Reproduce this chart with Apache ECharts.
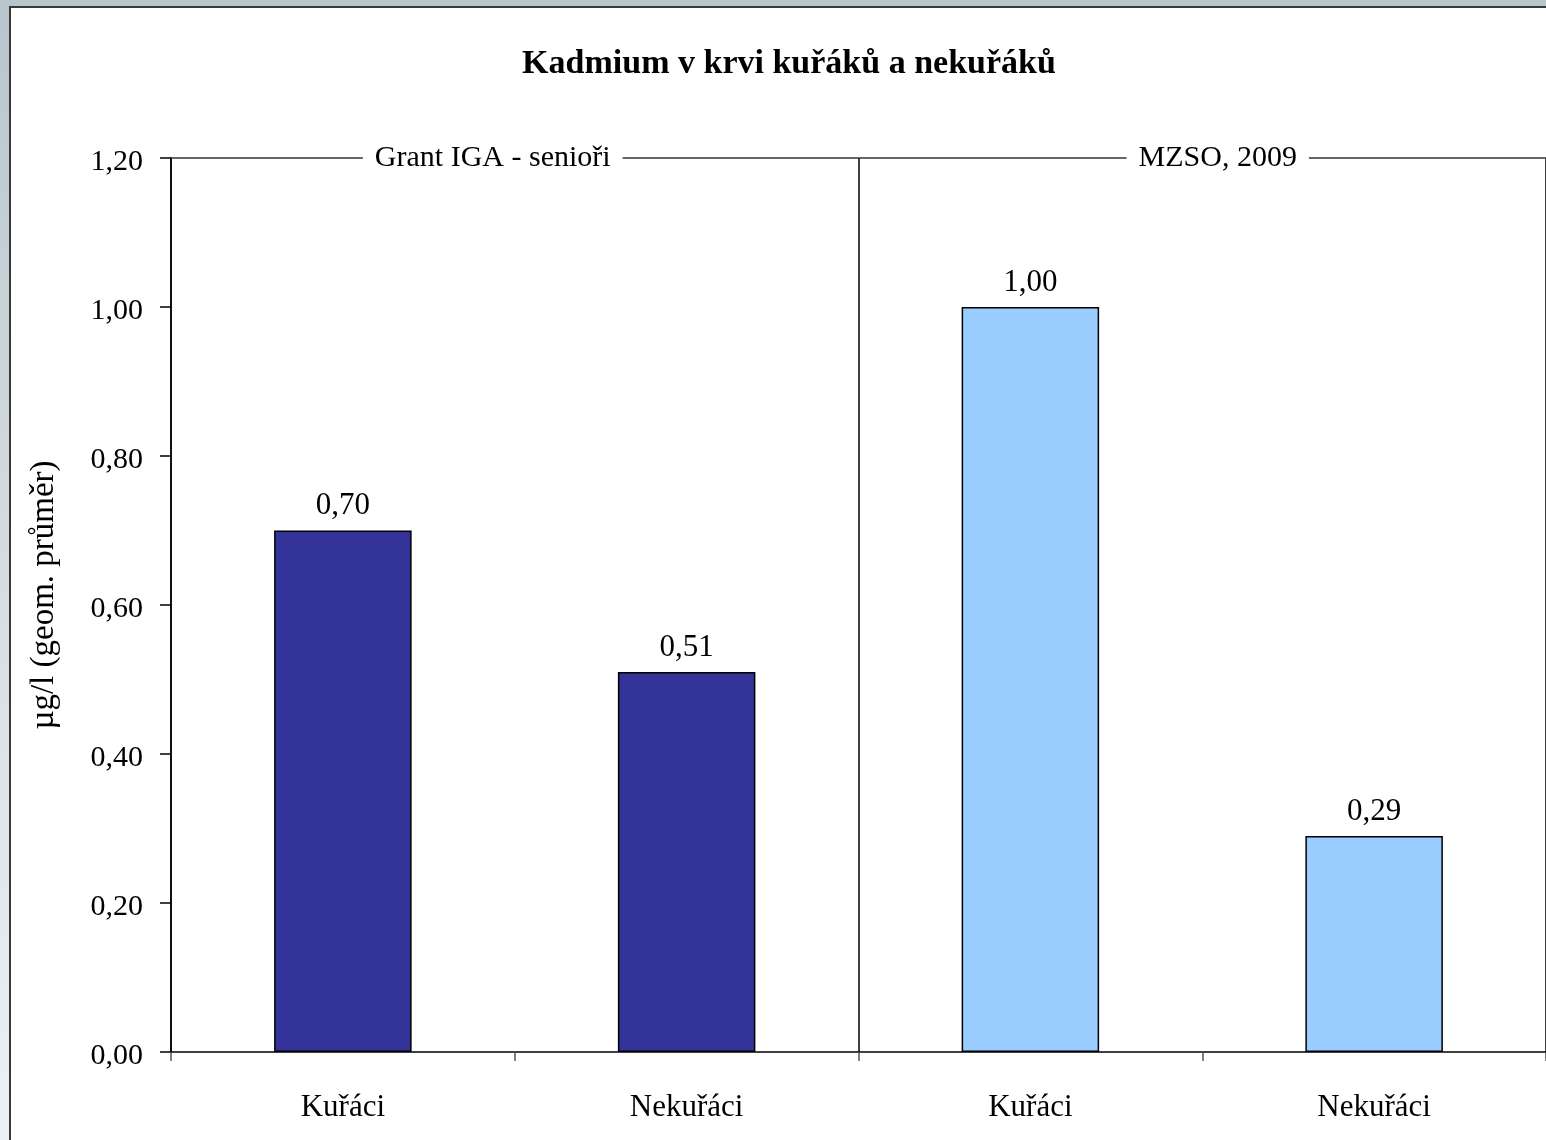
<!DOCTYPE html>
<html>
<head>
<meta charset="utf-8">
<script src="https://cdn.jsdelivr.net/npm/echarts@6/dist/echarts.min.js"></script>
<style>
  html, body { margin: 0; padding: 0; }
  body { width: 1546px; height: 1140px; overflow: hidden; position: relative;
         background: linear-gradient(to bottom, #b8c5cc 0%, #d6dde1 50%, #eef1f3 100%); }
  #frame { position: absolute; left: 9px; top: 6px; width: 1560px; height: 1160px;
           background: #ffffff; border-left: 2px solid #3a3a3a; border-top: 2px solid #3a3a3a; }
  #chart { position: absolute; left: 0; top: 0; width: 1546px; height: 1140px; }
</style>
</head>
<body>
<div id="frame"></div>
<div id="chart"></div>
<script>
const titleText = 'Kadmium v krvi kuřáků a nekuřáků';
const yAxisName = 'µg/l (geom. průměr)';
const categories = ['Kuřáci', 'Nekuřáci', 'Kuřáci', 'Nekuřáci'];
const groups = ['Grant IGA - senioři', 'MZSO, 2009'];
const grantValues = [0.70, 0.51, '-', '-'];
const mzsoValues = ['-', '-', 1.00, 0.29];

const serif = 'Liberation Serif, Times New Roman, serif';
const fmt = v => Number(v).toFixed(2).replace('.', ',');

const chart = echarts.init(document.getElementById('chart'), null, { renderer: 'canvas' });
chart.setOption({
  backgroundColor: 'transparent',
  animation: false,
  title: {
    text: titleText,
    left: 784,
    top: 42,
    textAlign: 'center',
    textStyle: { fontFamily: serif, fontWeight: 'bold', fontSize: 34, color: '#000' }
  },
  grid: { left: 171, right: 0, top: 158, bottom: 88, containLabel: false },
  xAxis: [
    {
      type: 'category',
      data: categories,
      position: 'bottom',
      axisLine: { show: true, lineStyle: { color: '#000', width: 1.5 } },
      axisTick: { show: true, length: 9, lineStyle: { color: '#555', width: 1.5 } },
      axisLabel: { fontFamily: serif, fontSize: 31, color: '#000', margin: 40 },
      splitLine: { show: false }
    },
    {
      type: 'category',
      data: groups,
      position: 'top',
      axisLine: { show: true, lineStyle: { color: '#333', width: 1.5 } },
      axisTick: { show: false },
      splitLine: { show: true, lineStyle: { color: '#000', width: 1.5 } },
      axisLabel: {
        margin: 0,
        verticalAlign: 'middle',
        formatter: (v, i) => i === 0 ? '{a|' + v + '}{s1|}' : '{s2|}{a|' + v + '}',
        rich: {
          a: { fontFamily: serif, fontSize: 30, color: '#000', backgroundColor: '#fff',
               padding: [4, 12, 4, 12] },
          s1: { width: 44, height: 10 },
          s2: { width: 31, height: 10 }
        }
      }
    }
  ],
  yAxis: {
    type: 'value',
    min: 0,
    max: 1.2,
    interval: 0.2,
    name: yAxisName,
    nameLocation: 'middle',
    nameRotate: 90,
    nameGap: 110,
    nameTextStyle: { fontFamily: serif, fontSize: 33, color: '#000', padding: [0, 0, 0, 20] },
    axisLine: { show: true, lineStyle: { color: '#000', width: 1.5 } },
    axisTick: { show: true, length: 11, lineStyle: { color: '#000', width: 1.5 } },
    axisLabel: { fontFamily: serif, fontSize: 30, color: '#000', margin: 28,
                 verticalAlign: 'top', lineHeight: 8, formatter: v => fmt(v) },
    splitLine: { show: false }
  },
  series: [
    {
      name: groups[0],
      type: 'bar',
      xAxisIndex: 0,
      data: grantValues,
      barWidth: '40%',
      barGap: '-100%',
      itemStyle: { color: '#333399', borderColor: '#000', borderWidth: 1.5 },
      label: { show: true, position: 'top', distance: 9, fontFamily: serif, fontSize: 31,
               color: '#000', formatter: p => fmt(p.value) }
    },
    {
      name: groups[1],
      type: 'bar',
      xAxisIndex: 0,
      data: mzsoValues,
      barWidth: '40%',
      barGap: '-100%',
      itemStyle: { color: '#99CCFF', borderColor: '#000', borderWidth: 1.5 },
      label: { show: true, position: 'top', distance: 9, fontFamily: serif, fontSize: 31,
               color: '#000', formatter: p => fmt(p.value) }
    }
  ]
});
</script>
</body>
</html>
